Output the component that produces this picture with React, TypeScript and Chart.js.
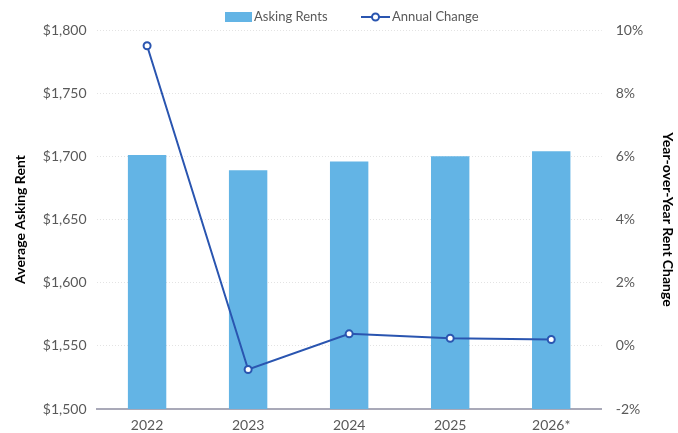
import React, { useEffect, useRef } from "react";
import { Chart, registerables } from "chart.js";

Chart.register(...registerables);

const categories = ["2022", "2023", "2024", "2025", "2026*"];
const askingRents = [1701, 1689, 1696, 1700, 1704];
const annualChange = [9.5, -0.75, 0.38, 0.24, 0.2];
const rentTicks = [1500, 1550, 1600, 1650, 1700, 1750, 1800];

const BAR_COLOR = "#63B4E5";
const LINE_COLOR = "#2A55B0";
const TEXT_COLOR = "#595959";
const FONT = "Lato, 'Open Sans', sans-serif";

const legendPlugin = {
  id: "customLegend",
  afterDraw(chart: any) {
    const ctx = chart.ctx;
    const bars = chart.data.datasets.find((d: any) => d.type === "bar");
    const line = chart.data.datasets.find((d: any) => d.type === "line");
    ctx.save();
    ctx.font = `13px ${FONT}`;
    ctx.textBaseline = "middle";
    ctx.fillStyle = BAR_COLOR;
    const y = 17;
    ctx.fillRect(225, 12, 27, 10);
    ctx.fillStyle = TEXT_COLOR;
    ctx.textAlign = "left";
    ctx.fillText(bars.label, 254, y);
    ctx.strokeStyle = LINE_COLOR;
    ctx.lineWidth = 2;
    ctx.beginPath();
    ctx.moveTo(361, y);
    ctx.lineTo(390, y);
    ctx.stroke();
    ctx.beginPath();
    ctx.arc(375.5, y, 3.5, 0, Math.PI * 2);
    ctx.fillStyle = "#ffffff";
    ctx.fill();
    ctx.stroke();
    ctx.fillStyle = TEXT_COLOR;
    ctx.fillText(line.label, 392, y);
    ctx.restore();
  },
};

export default function App() {
  const ref = useRef<HTMLCanvasElement>(null);
  useEffect(() => {
    if (!ref.current) return;
    const chart = new Chart(ref.current, {
      type: "bar",
      data: {
        labels: categories,
        datasets: [
          {
            type: "line",
            label: "Annual Change",
            data: annualChange,
            yAxisID: "y1",
            borderColor: LINE_COLOR,
            borderWidth: 2,
            pointRadius: 3.5,
            pointBackgroundColor: "#ffffff",
            pointBorderColor: LINE_COLOR,
            pointBorderWidth: 2,
            tension: 0,
            order: 0,
          } as any,
          {
            type: "bar",
            label: "Asking Rents",
            data: askingRents,
            yAxisID: "y",
            backgroundColor: BAR_COLOR,
            categoryPercentage: 1,
            barPercentage: 0.38,
            order: 1,
          },
        ],
      },
      options: {
        animation: false,
        responsive: true,
        maintainAspectRatio: false,
        layout: { padding: { top: 30, left: 8, right: 0, bottom: 0 } },
        plugins: {
          legend: { display: false },
          tooltip: { enabled: false },
        },
        scales: {
          x: {
            grid: { display: false, drawTicks: false },
            border: { display: true, color: "#A9A9B8", width: 2 },
            ticks: { color: TEXT_COLOR, font: { family: FONT, size: 14, lineHeight: 1 }, padding: 9 },
          },
          y: {
            position: "left",
            min: 1500,
            max: 1800,
            afterBuildTicks: (axis: any) => {
              axis.ticks = rentTicks.map((v) => ({ value: v }));
            },
            grid: { color: "#E3E3E3", drawTicks: false, lineWidth: 1 },
            border: { display: false, dash: [1, 2] },
            ticks: {
              color: TEXT_COLOR,
              font: { family: FONT, size: 14 },
              padding: 10,
              callback: (v: any) => "$" + Number(v).toLocaleString("en-US"),
            },
            title: {
              display: true,
              text: "Average Asking Rent",
              color: "#000000",
              font: { family: FONT, size: 14, weight: "bold" },
              padding: 4,
            },
          },
          y1: {
            position: "right",
            min: -2,
            max: 10,
            grid: { display: false, drawTicks: false },
            border: { display: false },
            ticks: {
              stepSize: 2,
              color: TEXT_COLOR,
              font: { family: FONT, size: 14 },
              padding: 14,
              callback: (v: any) => v + "%",
            },
            title: {
              display: true,
              text: "Year-over-Year Rent Change",
              color: "#000000",
              font: { family: FONT, size: 14, weight: "bold" },
              padding: 2,
            },
          },
        },
      },
      plugins: [legendPlugin],
    });
    return () => chart.destroy();
  }, []);
  return (
    <div style={{ position: "fixed", left: 0, top: 0, width: 678, height: 441, background: "#fff" }}>
      <canvas ref={ref} />
    </div>
  );
}
